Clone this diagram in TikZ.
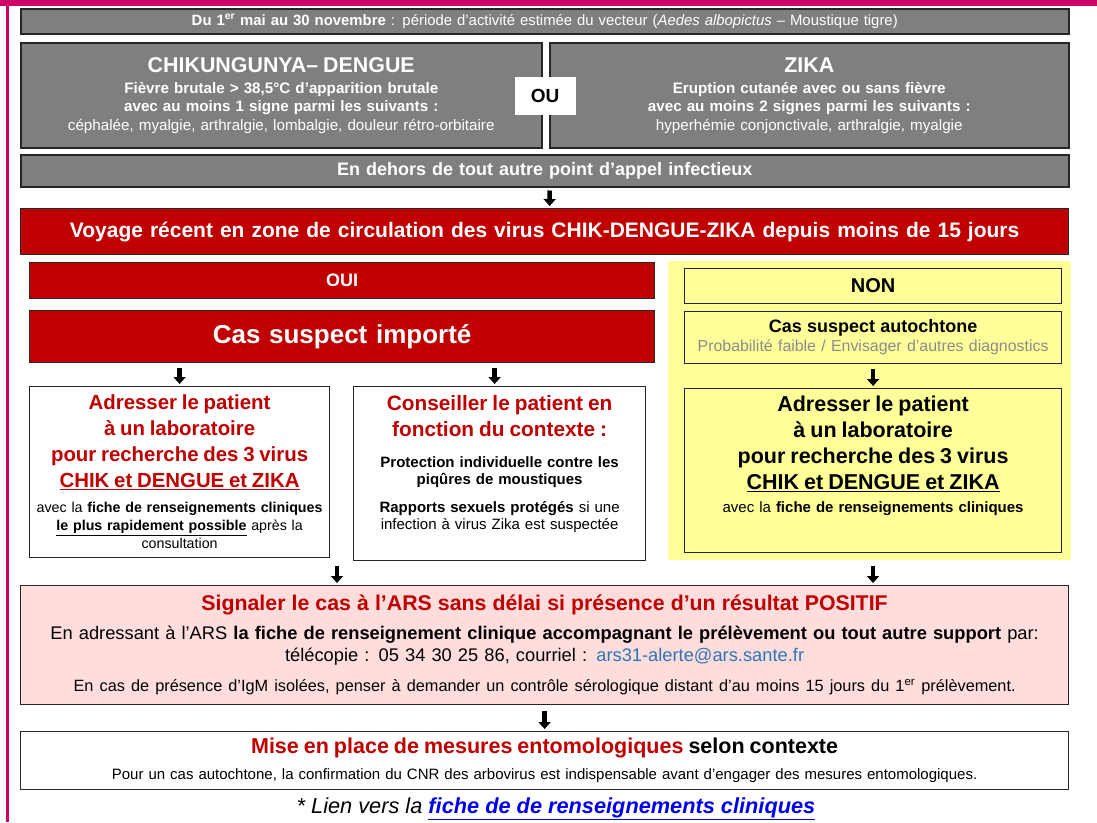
\documentclass[tikz,border=0pt]{standalone}
\usepackage{fontspec}
\setmainfont{Liberation Sans}
\usetikzlibrary{arrows.meta,positioning}

\definecolor{magentaBar}{HTML}{CC0066}
\definecolor{grisBox}{HTML}{7F7F7F}
\definecolor{rougeBox}{HTML}{C00000}
\definecolor{jauneBox}{HTML}{FFFF99}
\definecolor{roseBox}{HTML}{FFDDDD}
\definecolor{grisTexte}{HTML}{8C8C8C}
\definecolor{bleuMail}{HTML}{2E75B6}
\definecolor{bleuLien}{HTML}{0000EE}
\newcommand\fsz[2]{\fontsize{#1}{#2}\selectfont}

\tikzset{
  cadre/.style={rectangle, draw=black!85, line width=1.2pt, anchor=north west, inner sep=2pt, align=center},
  grisbox/.style={cadre, fill=grisBox, text=white, line width=1.5pt},
  rougebox/.style={cadre, fill=rougeBox, text=white, font=\bfseries},
  jaunebox/.style={cadre, fill=jauneBox},
  blancbox/.style={cadre, fill=white},
  flecheBas/.style={-{Triangle[width=12pt,length=7pt]}, line width=4.5pt, shorten <=3pt, shorten >=2pt},
}

\begin{document}
\begin{tikzpicture}[x=1pt, y=-1pt]
\useasboundingbox (0,0) rectangle (1097,822);
% bandeau et filet magenta
\fill[magentaBar] (0,0) rectangle (1097,6);
\fill[magentaBar] (6,0) rectangle (9,822);

% criteres cliniques
\node[grisbox, minimum width=1048pt, minimum height=25pt, text width=1040pt, font=\fsz{14.9}{17}] (periode) at (20,8)
  {\textbf{Du 1\textsuperscript{er} mai au 30 novembre} : période d’activité estimée du vecteur (\textit{Aedes albopictus} – Moustique tigre)};
\node[grisbox, minimum width=521pt, minimum height=105pt, text width=513pt, font=\fsz{15.2}{18.5}] (chik) at (20,42)
  {{\fsz{21.4}{22}\bfseries CHIKUNGUNYA– DENGUE}\\[2.5pt]
   \textbf{Fièvre brutale > 38,5°C d’apparition brutale}\\
   \textbf{avec au moins 1 signe parmi les suivants :}\\
   céphalée, myalgie, arthralgie, lombalgie,  douleur rétro-orbitaire};
\node[grisbox, minimum width=519pt, minimum height=105pt, text width=511pt, font=\fsz{15.2}{18.5}] (zika) at (549,42)
  {{\fsz{21.4}{22}\bfseries ZIKA}\\[2.5pt]
   \textbf{Eruption cutanée avec ou sans fièvre}\\
   \textbf{avec au moins 2 signes parmi les suivants :}\\
   hyperhémie conjonctivale, arthralgie, myalgie};
\node[fill=white, minimum width=61pt, minimum height=38pt, font=\fsz{19}{22}\bfseries] (ou) at (545,96) {OU};
\node[grisbox, minimum width=1048pt, minimum height=32pt, text width=1040pt, font=\fsz{18}{20}\bfseries] (dehors) at (20,154)
  {En dehors de tout autre point d’appel infectieux};

% voyage
\node[rougebox, minimum width=1048pt, minimum height=46pt, text width=1040pt, font=\fsz{21}{24}\bfseries] (voyage) at (20,208)
  {Voyage récent en zone de circulation des virus CHIK-DENGUE-ZIKA depuis moins de 15 jours};

% branche NON (fond jaune)
\fill[jauneBox] (668,261) rectangle (1071,560);

% branche OUI
\node[rougebox, minimum width=625pt, minimum height=36pt, text width=617pt, font=\fsz{18}{20}\bfseries] (oui) at (29,262) {OUI};
\node[rougebox, minimum width=625pt, minimum height=52pt, text width=617pt, font=\fsz{26}{30}\bfseries] (importe) at (29,310) {Cas suspect importé};
\node[blancbox, minimum width=300pt, minimum height=171pt, text width=294pt, font=\fsz{14.25}{18}] (adrL) at (29,386)
  {{\color{rougeBox}\fsz{20.4}{26}\bfseries Adresser le patient\\ à un laboratoire\\ pour recherche des 3 virus\\ \underline{CHIK et DENGUE et ZIKA}\\[7pt]}
   avec la \textbf{fiche de renseignements cliniques}\\
   \underline{\textbf{le plus rapidement possible}} après la\\
   consultation};
\node[blancbox, minimum width=292pt, minimum height=174pt, text width=286pt, font=\fsz{15}{17}] (conseil) at (353,386)
  {{\color{rougeBox}\fsz{20.8}{26}\bfseries Conseiller le patient en\\ fonction du contexte :\\[14pt]}
   \textbf{Protection individuelle contre les}\\
   \textbf{piqûres de moustiques}\\[11pt]
   \textbf{Rapports sexuels protégés} si une\\
   infection à virus Zika est suspectée\\[5pt]\mbox{}};

\node[jaunebox, minimum width=377pt, minimum height=35pt, text width=369pt, font=\fsz{20}{22}\bfseries] (non) at (684,268) {NON};
\node[jaunebox, minimum width=377pt, minimum height=52pt, text width=369pt, font=\fsz{15.9}{19}] (autoch) at (684,311)
  {{\fsz{18}{19}\bfseries Cas suspect autochtone}\\
   \textcolor{grisTexte}{Probabilité faible / Envisager d’autres diagnostics}};
\node[jaunebox, minimum width=377pt, minimum height=164pt, text width=369pt, font=\fsz{15}{18}] (adrR) at (684,388)
  {{\fsz{21.5}{26}\bfseries Adresser le patient\\ à un laboratoire\\ pour recherche des 3 virus\\ \underline{CHIK et DENGUE et ZIKA}\\[5pt]}
   avec la \textbf{fiche de renseignements cliniques}\\[14pt]\mbox{}};

% signalement
\node[cadre, fill=roseBox, minimum width=1048pt, minimum height=119pt, text width=1040pt, font=\fsz{18.3}{22}] (signaler) at (20,585)
  {{\color{rougeBox}\fsz{21.3}{24}\bfseries Signaler le cas à l'ARS sans délai si présence d’un résultat POSITIF}\\[7pt]
   En adressant à l’ARS \textbf{la fiche de renseignement clinique accompagnant le prélèvement ou tout autre support} par:\\
   télécopie : 05 34 30 25 86, courriel : \textcolor{bleuMail}{ars31-alerte@ars.sante.fr}\\[8pt]
   {\fsz{16.3}{22}En cas de présence d’IgM isolées, penser à demander un contrôle sérologique distant d’au moins 15 jours du 1\textsuperscript{er} prélèvement.}};
\node[blancbox, minimum width=1048pt, minimum height=58pt, text width=1040pt, font=\fsz{15}{18}] (mise) at (20,731)
  {{\fsz{21.5}{24}\bfseries\textcolor{rougeBox}{Mise en place de mesures entomologiques} selon contexte}\\[8pt]
   Pour un cas autochtone, la confirmation du CNR des arbovirus est indispensable avant d’engager des mesures entomologiques.};
\node[font=\fsz{21.75}{24}\itshape] (lien) at (556,809)
  {* Lien vers la \textcolor{bleuLien}{\bfseries\underline{fiche de de renseignements cliniques}}};

% fleches
\coordinate (departOui) at (337,563);
\coordinate (departNon) at (873,563);
\draw[flecheBas] ([xshift=5pt]dehors.south) -- ([xshift=5pt]voyage.north);
\draw[flecheBas, shorten <=5pt] (importe.south -| adrL.north) -- (adrL.north);
\draw[flecheBas, shorten <=5pt] ([xshift=-5pt]importe.south -| conseil.north) -- ([xshift=-5pt]conseil.north);
\draw[flecheBas, shorten <=5pt] (autoch.south) -- (adrR.north);
\draw[flecheBas] (departOui) -- (departOui |- signaler.north);
\draw[flecheBas] (departNon) -- (departNon |- signaler.north);
\draw[flecheBas, shorten <=6pt] (signaler.south) -- (mise.north);
\end{tikzpicture}
\end{document}
